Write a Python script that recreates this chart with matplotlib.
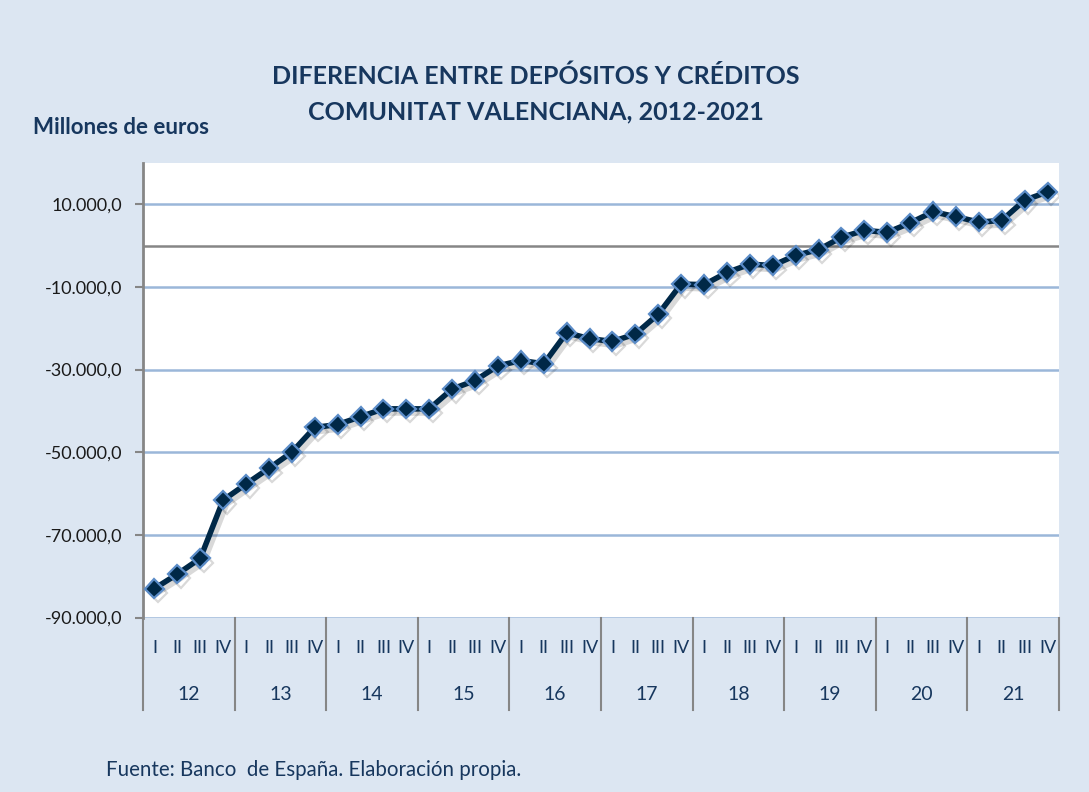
import matplotlib
matplotlib.use("Agg")
import matplotlib.pyplot as plt
import matplotlib.patheffects as pe
from matplotlib.transforms import blended_transform_factory
import numpy as np

years = ["12", "13", "14", "15", "16", "17", "18", "19", "20", "21"]
quarters = ["I", "II", "III", "IV"]
values = [
    -83000, -79500, -75700, -61600,
    -57700, -53900, -50000, -44000,
    -43300, -41400, -39500, -39500,
    -39500, -34700, -32650, -29100,
    -27800, -28600, -21100, -22500,
    -23200, -21400, -16600, -9300,
    -9450, -6500, -4500, -4800,
    -2350, -970, 2000, 3700,
    3200, 5500, 8200, 7000,
    5700, 6100, 11000, 13000,
]
yticks = [-90000, -70000, -50000, -30000, -10000, 10000]

BG = "#DCE6F2"
NAVY = "#17375E"
LINE = "#002847"
GRID = "#9BB7D9"
AXIS = "#868686"

plt.rcParams['font.family'] = ['Lato', 'DejaVu Sans']

W, H = 1089, 792
fig = plt.figure(figsize=(W / 100, H / 100), dpi=100, facecolor=BG)

L, R, T, B = 143, 1059, 163, 617.5
ax = fig.add_axes([L / W, 1 - B / H, (R - L) / W, (B - T) / H])
ax.set_facecolor("white")

x = np.arange(len(values))
ax.plot(x, values, color=LINE, lw=4.0, marker="D", markersize=9.5,
        markerfacecolor=LINE, markeredgecolor="#5B8CC8", markeredgewidth=1.6,
        solid_joinstyle="round", zorder=5,
        path_effects=[pe.SimpleLineShadow(offset=(2.5, -3), shadow_color="black", alpha=0.15),
                      pe.Normal()])

ax.set_xlim(-0.5, len(values) - 0.5)
ax.set_ylim(-90000, 20000)
ax.set_yticks(yticks)
ax.set_yticklabels([f"{v:,.1f}".replace(",", "X").replace(".", ",").replace("X", ".") for v in yticks],
                   fontsize=13, color="#1A1A1A")
ax.tick_params(axis="y", length=6, width=1.5, color=AXIS, pad=9)
ax.set_xticks([])
for v in yticks:
    ax.axhline(v, color=GRID, lw=1.8, zorder=1)
ax.axhline(0, color=AXIS, lw=1.8, zorder=2)

for s in ["top", "right", "bottom"]:
    ax.spines[s].set_visible(False)
ax.spines["left"].set_color(AXIS)
ax.spines["left"].set_linewidth(2)

# two-level category axis
trans = blended_transform_factory(ax.transData, fig.transFigure)
def fy(py):
    return 1 - py / H
for i, q in enumerate(quarters * len(years)):
    fig.text(x[i], fy(648), q, transform=trans, ha="center", va="center",
             fontsize=13, color=NAVY)
for k, yr in enumerate(years):
    fig.text(4 * k + 1.5, fy(695), yr, transform=trans, ha="center", va="center",
             fontsize=14, color=NAVY)
for k in range(len(years) + 1):
    xb = 4 * k - 0.5
    ax.plot([xb, xb], [fy(618), fy(710)], transform=trans, color=AXIS, lw=1.5,
            clip_on=False, zorder=3)

fig.text(536 / W, fy(76), "DIFERENCIA ENTRE DEPÓSITOS Y CRÉDITOS", ha="center", va="center",
         fontsize=18, fontweight="bold", color=NAVY)
fig.text(536 / W, fy(112), "COMUNITAT VALENCIANA, 2012-2021", ha="center", va="center",
         fontsize=18, fontweight="bold", color=NAVY)
fig.text(33 / W, fy(127), "Millones de euros", ha="left", va="center",
         fontsize=16, fontweight="bold", color=NAVY)
fig.text(106 / W, fy(770), "Fuente: Banco  de España. Elaboración propia.", ha="left", va="center",
         fontsize=14.8, color=NAVY)

fig.savefig("out.png", dpi=100, facecolor=BG)
